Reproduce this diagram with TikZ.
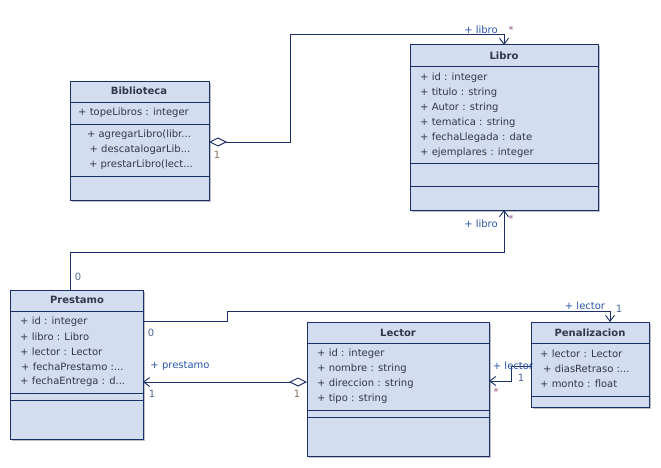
\documentclass[tikz,border=0pt]{standalone}
\usepackage{fontspec}
\setmainfont{DejaVu Sans}
\usetikzlibrary{arrows.meta,shadows}

\definecolor{umlline}{HTML}{1B2F68}
\definecolor{umlfill}{HTML}{D3DDF0}
\definecolor{umltext}{HTML}{34364A}
\definecolor{rolecol}{HTML}{2A55A8}
\definecolor{multcol}{HTML}{4A6690}
\definecolor{aggmult}{HTML}{8A6A58}
\definecolor{starcol}{HTML}{9A5A8A}

\begin{document}
\begin{tikzpicture}[x=1pt,y=-1pt,
  classbox/.style={draw=umlline, fill=umlfill, line width=1pt, inner sep=0pt,
    outer sep=0pt, anchor=north west,
    general shadow={shadow xshift=1.5pt, shadow yshift=-1.5pt, fill=black!25}},
  sepline/.style={draw=umlline, line width=0.9pt},
  title/.style={font=\fontsize{10}{12}\selectfont\bfseries, text=umltext, inner sep=0pt},
  member/.style={font=\fontsize{10}{12}\selectfont, text=umltext, inner sep=0pt, anchor=west},
  op/.style={font=\fontsize{10}{12}\selectfont, text=umltext, inner sep=0pt},
  conn/.style={draw=umlline, line width=0.9pt},
  openhead/.style={-{Straight Barb[length=6pt,width=9pt,line width=0.9pt]}},
  aggopen/.style={{Diamond[open,fill=white,length=18pt,width=9pt,line width=0.9pt]}-{Straight Barb[length=6pt,width=9pt,line width=0.9pt]}},
  role/.style={font=\fontsize{10}{12}\selectfont, text=rolecol, inner sep=0pt},
  mult/.style={font=\fontsize{10}{12}\selectfont, text=multcol, inner sep=0pt},
]
\useasboundingbox[fill=white] (0,0) rectangle (661,468);

% ---------- Biblioteca ----------
\node[classbox, minimum width=139pt, minimum height=118pt] (bib) at (70,82) {};
\draw[sepline] (bib.west |- 0,102) -- (bib.east |- 0,102);
\draw[sepline] (bib.west |- 0,124) -- (bib.east |- 0,124);
\draw[sepline] (bib.west |- 0,176) -- (bib.east |- 0,176);
\node[title] (bib-t) at (139,91) {Biblioteca};
\node[member] (bib-a1) at (78,113) {+ topeLibros : integer};
\node[op] (bib-m1) at (139,135) {+ agregarLibro(libr...};
\node[op] (bib-m2) at (140,150) {+ descatalogarLib...};
\node[op] (bib-m3) at (141,165) {+ prestarLibro(lect...};

% ---------- Libro ----------
\node[classbox, minimum width=188pt, minimum height=165pt] (libro) at (410,45) {};
\draw[sepline] (libro.west |- 0,66) -- (libro.east |- 0,66);
\draw[sepline] (libro.west |- 0,163) -- (libro.east |- 0,163);
\draw[sepline] (libro.west |- 0,186) -- (libro.east |- 0,186);
\node[title] (libro-t) at (504,56) {Libro};
\node[member] (libro-a1) at (420,78) {+ id : integer};
\node[member] (libro-a2) at (420,93) {+ titulo : string};
\node[member] (libro-a3) at (420,108) {+ Autor : string};
\node[member] (libro-a4) at (420,123) {+ tematica : string};
\node[member] (libro-a5) at (420,138) {+ fechaLlegada : date};
\node[member] (libro-a6) at (420,153) {+ ejemplares : integer};

% ---------- Prestamo ----------
\node[classbox, minimum width=133pt, minimum height=149pt] (pres) at (10,290) {};
\draw[sepline] (pres.west |- 0,311) -- (pres.east |- 0,311);
\draw[sepline] (pres.west |- 0,393) -- (pres.east |- 0,393);
\draw[sepline] (pres.west |- 0,400) -- (pres.east |- 0,400);
\node[title] (pres-t) at (77,300) {Prestamo};
\node[member] (pres-a1) at (20,322) {+ id : integer};
\node[member] (pres-a2) at (20,337) {+ libro : Libro};
\node[member] (pres-a3) at (20,352) {+ lector : Lector};
\node[member] (pres-a4) at (21,367) {+ fechaPrestamo :...};
\node[member] (pres-a5) at (20,382) {+ fechaEntrega : d...};

% ---------- Lector ----------
\node[classbox, minimum width=182pt, minimum height=134pt] (lec) at (307,322) {};
\draw[sepline] (lec.west |- 0,343) -- (lec.east |- 0,343);
\draw[sepline] (lec.west |- 0,410) -- (lec.east |- 0,410);
\draw[sepline] (lec.west |- 0,417) -- (lec.east |- 0,417);
\node[title] (lec-t) at (398,333) {Lector};
\node[member] (lec-a1) at (317,354) {+ id : integer};
\node[member] (lec-a2) at (317,369) {+ nombre : string};
\node[member] (lec-a3) at (317,384) {+ direccion : string};
\node[member] (lec-a4) at (317,399) {+ tipo : string};

% ---------- Penalizacion ----------
\node[classbox, minimum width=118pt, minimum height=85pt] (pen) at (531,322) {};
\draw[sepline] (pen.west |- 0,343) -- (pen.east |- 0,343);
\draw[sepline] (pen.west |- 0,396) -- (pen.east |- 0,396);
\node[title] (pen-t) at (590,333) {Penalizacion};
\node[member] (pen-a1) at (540,354) {+ lector : Lector};
\node[member] (pen-a2) at (543,369) {+ diasRetraso :...};
\node[member] (pen-a3) at (540,384) {+ monto : float};

% ---------- Associations ----------
% Biblioteca <>--> Libro
\draw[conn, aggopen] (bib.east |- 0,142) -| (290,34) -| (libro.north -| 504,0);
\node[role] (r-bib-libro) at (481,30) {+ libro};
\node[mult, text=starcol] (m-bib-libro) at (511,30) {*};
\node[mult, text=aggmult] (m-bib) at (217,155) {1};

% Prestamo --> Libro
\draw[conn, openhead] (pres.north -| 70,0) |- (504,252) -- (libro.south -| 504,0);
\node[role] (r-pres-libro) at (481,224) {+ libro};
\node[mult, text=starcol] (m-pres-libro) at (511,219) {*};
\node[mult] (m-pres-top) at (78,277) {0};

% Prestamo --> Penalizacion
\draw[conn, openhead] (pres.east |- 0,321) -| (227,311) -| (pen.north -| 610,0);
\node[role] (r-pres-pen) at (585,306) {+ lector};
\node[mult] (m-pres-pen) at (619,309) {1};
\node[mult] (m-pres-right) at (151,333) {0};

% Lector <>--> Prestamo
\draw[conn, aggopen] (lec.west |- 0,382) -- (pres.east |- 0,382);
\node[role] (r-lec-pres) at (180,366) {+ prestamo};
\node[mult] (m-lec-pres) at (152,394) {1};
\node[mult, text=aggmult] (m-lec) at (297,394) {1};

% Penalizacion --> Lector
\draw[conn, openhead] (pen.west |- 0,366) -| (511,381) -- (lec.east |- 0,381);
\node[role] (r-pen-lec) at (513,366) {+ lector};
\node[mult] (m-pen-lec) at (521,378) {1};
\node[mult, text=starcol] (m-pen-star) at (496,392) {*};
\end{tikzpicture}
\end{document}
